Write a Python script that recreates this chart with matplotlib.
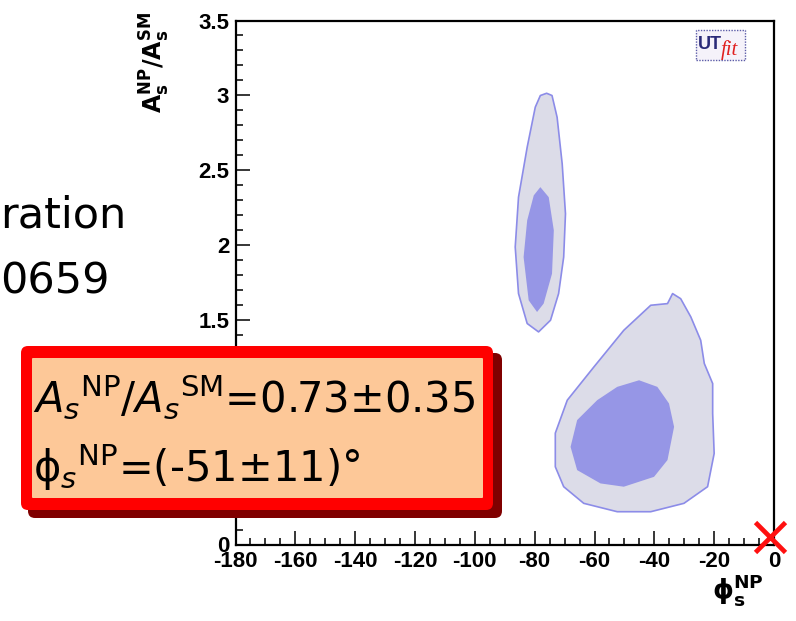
import matplotlib
matplotlib.use("Agg")
import matplotlib.pyplot as plt
from matplotlib.patches import FancyBboxPatch, Rectangle
from matplotlib.ticker import MultipleLocator, FuncFormatter

# probability regions in the (phi_s^NP [deg], A_s^NP/A_s^SM) plane
# outer = 95% region, inner = 68% region
upper_outer_phi = [-76.0, -74.2, -72.5, -70.8, -69.7, -70.3, -72.0, -74.7, -78.7,
                   -82.5, -85.4, -86.5, -85.4, -82.5, -79.8, -78.1]
upper_outer_ratio = [3.014, 2.999, 2.854, 2.543, 2.209, 1.920, 1.676, 1.498, 1.420,
                     1.476, 1.676, 1.987, 2.320, 2.654, 2.921, 2.999]
upper_inner_phi = [-78.1, -75.3, -73.6, -74.2, -77.0, -79.2, -82.0, -83.7, -82.5, -80.3]
upper_inner_ratio = [2.387, 2.320, 2.098, 1.809, 1.609, 1.553, 1.631, 1.920, 2.165, 2.332]

lower_outer_phi = [-33.9, -35.6, -41.2, -50.2, -60.2, -69.1, -73.1, -73.1, -70.3, -63.6,
                   -52.4, -41.2, -30.1, -22.2, -20.0, -20.5, -20.5, -23.3, -24.5, -27.8, -31.2]
lower_outer_ratio = [1.676, 1.609, 1.598, 1.431, 1.186, 0.964, 0.744, 0.519, 0.386, 0.275,
                     0.219, 0.219, 0.275, 0.386, 0.608, 0.875, 1.075, 1.209, 1.364, 1.520, 1.642]
lower_inner_phi = [-45.1, -39.0, -35.1, -33.4, -35.6, -40.1, -50.2, -58.0, -65.8, -68.0,
                   -65.8, -59.1, -52.4]
lower_inner_ratio = [1.097, 1.053, 0.942, 0.786, 0.564, 0.452, 0.386, 0.408, 0.497, 0.652,
                     0.831, 0.964, 1.053]

# marker drawn at the Standard Model point
cross_phi, cross_ratio = -1.5, 0.05

ratio_result = "0.73\u00b10.35"
phi_result = "(-51\u00b111)\u00b0"
side_lines = ["ration", "0659"]

# y tick values covered by the result box
covered_ticks = [0.5, 1.0]

W, H = 796, 621


def inch(x, y):
    # pixel position measured from the top-left corner -> inches from bottom-left
    return x / 100.0, (H - y) / 100.0


def ylabel_fmt(v, pos):
    if any(abs(v - c) < 1e-6 for c in covered_ticks):
        return ""
    return "%g" % v


plt.rcParams["mathtext.fontset"] = "custom"
plt.rcParams["mathtext.rm"] = "Liberation Sans"
plt.rcParams["mathtext.bf"] = "Liberation Sans:bold"
plt.rcParams["mathtext.it"] = "Liberation Sans:italic"

fig = plt.figure(figsize=(W / 100, H / 100), dpi=100)
fig.patch.set_facecolor("white")

x0, x1, ytop, ybot = 235.5, 774.0, 20.5, 544.5
ax = fig.add_axes([x0 / W, 1 - ybot / H, (x1 - x0) / W, (ybot - ytop) / H])

ax.fill(upper_outer_phi, upper_outer_ratio, facecolor="#dcdce8", edgecolor="#8c8ce8",
        lw=1.2, joinstyle="round")
ax.fill(upper_inner_phi, upper_inner_ratio, facecolor="#9696e6", edgecolor="none")
ax.fill(lower_outer_phi, lower_outer_ratio, facecolor="#dcdce8", edgecolor="#8c8ce8",
        lw=1.2, joinstyle="round")
ax.fill(lower_inner_phi, lower_inner_ratio, facecolor="#9696e6", edgecolor="none")

ax.plot(cross_phi, cross_ratio, marker="x", ms=21, mew=3.4, color="#ff1010",
        clip_on=False, zorder=10)

ax.set_xlim(-180, 0)
ax.set_ylim(0, 3.5)
ax.xaxis.set_major_locator(MultipleLocator(20))
ax.xaxis.set_minor_locator(MultipleLocator(5))
ax.yaxis.set_major_locator(MultipleLocator(0.5))
ax.yaxis.set_minor_locator(MultipleLocator(0.1))
ax.xaxis.set_major_formatter(FuncFormatter(lambda v, p: "%g" % v))
ax.yaxis.set_major_formatter(FuncFormatter(ylabel_fmt))
ax.tick_params(which="both", direction="in", width=1.1, top=False, right=False)
ax.tick_params(which="major", length=10)
ax.tick_params(which="minor", length=5)
ax.tick_params(axis="x", pad=4.5)
ax.tick_params(axis="y", pad=4.5)
for lab in ax.get_xticklabels() + ax.get_yticklabels():
    lab.set_fontfamily("Liberation Sans")
    lab.set_fontweight("bold")
    lab.set_fontsize(16)
for sp in ax.spines.values():
    sp.set_linewidth(1.6)

# axis titles
fig.text(738 / W, 1 - 590 / H, r"$\mathbf{\phi_s^{NP}}$", fontsize=19,
         ha="center", va="center", math_fontfamily="dejavusans")
fig.text(155 / W, 1 - 62 / H, r"$\mathbf{A_s^{NP}/A_s^{SM}}$", fontsize=17,
         rotation=90, ha="center", va="center", math_fontfamily="dejavusans")

# UTfit logo
lx, ly = inch(696, 60)
fig.patches.append(Rectangle((lx, ly), 0.49, 0.30, transform=fig.dpi_scale_trans,
                             facecolor="#f5f2fa", edgecolor="#5c5ca8", lw=1.0,
                             linestyle=(0, (1, 1))))
fig.text(*inch(698, 49), "UT", transform=fig.dpi_scale_trans, fontsize=13,
         fontfamily="Liberation Sans", fontweight="bold", color="#2a2a78", va="baseline")
fig.text(*inch(721, 55), "fit", transform=fig.dpi_scale_trans, fontsize=15,
         fontfamily="Liberation Serif", fontstyle="italic", color="#e02020", va="baseline")


# result box with drop shadow
def rbox(xa, ya, xb, yb, color, rad):
    bx, by = inch(xa, yb)
    return FancyBboxPatch((bx, by), (xb - xa) / 100, (yb - ya) / 100,
                          boxstyle=f"round,pad=0,rounding_size={rad}",
                          transform=fig.dpi_scale_trans, facecolor=color,
                          edgecolor="none", zorder=2)


fig.patches.append(rbox(28, 353, 502, 518, "#800000", 0.07))
fig.patches.append(rbox(21, 346, 493, 510, "#ff0000", 0.07))
fig.patches.append(rbox(32, 358, 483, 498, "#fdc898", 0.01))

fig.text(*inch(33, 412), r"$A_s{}^{\rm NP}/A_s{}^{\rm SM}$=" + ratio_result,
         transform=fig.dpi_scale_trans, fontsize=30, fontfamily="DejaVu Sans",
         math_fontfamily="dejavusans", va="baseline", zorder=5)
fig.text(*inch(33, 482), r"$\mathrm{\phi}_s{}^{\rm NP}$=" + phi_result,
         transform=fig.dpi_scale_trans, fontsize=30, fontfamily="DejaVu Sans",
         math_fontfamily="dejavusans", va="baseline", zorder=5)

# slide text cut by the left edge
fig.text(*inch(0, 227), side_lines[0], transform=fig.dpi_scale_trans, fontsize=31,
         fontfamily="DejaVu Sans", va="baseline")
fig.text(*inch(0, 293), side_lines[1], transform=fig.dpi_scale_trans, fontsize=31,
         fontfamily="DejaVu Sans", va="baseline")

fig.savefig("out.png", dpi=100)
